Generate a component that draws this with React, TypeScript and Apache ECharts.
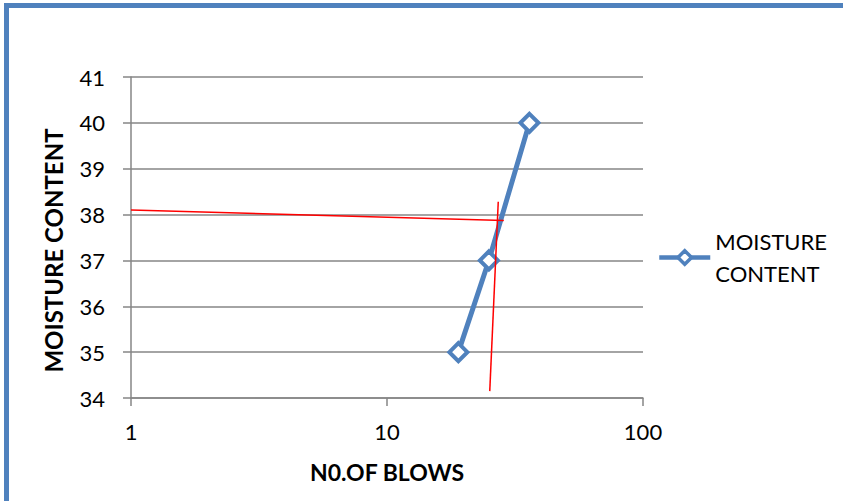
import React, { useEffect, useRef } from "react";
import * as echarts from "echarts";

const blows = [19, 25, 36];
const moisture = [35, 37, 40];
const redHX = [1, 28.6];
const redHY = [38.1, 37.87];
const redVX = [25.2, 27.2];
const redVY = [34.15, 38.28];
const seriesName = "MOISTURE CONTENT";
const xTitle = "N0.OF BLOWS";
const yTitle = "MOISTURE CONTENT";

const FONT = "Lato";
const BLUE = "#4F81BD";
const GRAY = "#868686";

export default function App() {
  const ref = useRef<HTMLDivElement>(null);
  useEffect(() => {
    const chart = echarts.init(ref.current!, null, { renderer: "svg" });
    const zip = (a: number[], b: number[]) => a.map((v, i) => [v, b[i]]);
    chart.setOption({
      animation: false,
      textStyle: { fontFamily: FONT },
      grid: { left: 131, right: 200, top: 77, bottom: 103, containLabel: false },
      xAxis: {
        type: "log",
        logBase: 10,
        min: 1,
        max: 100,
        name: xTitle,
        nameLocation: "middle",
        nameGap: 62,
        nameTextStyle: { fontFamily: FONT, fontWeight: "bold", fontSize: 23, color: "#000" },
        axisLine: { lineStyle: { color: GRAY, width: 1.5 } },
        axisTick: { show: true, length: 8, lineStyle: { color: GRAY, width: 1.5 } },
        minorTick: { show: false },
        splitLine: { show: false },
        axisLabel: { fontFamily: FONT, fontSize: 22, color: "#000", margin: 22 },
      },
      yAxis: {
        type: "value",
        min: 34,
        max: 41,
        interval: 1,
        name: yTitle,
        nameLocation: "middle",
        nameGap: 66,
        nameTextStyle: { fontFamily: FONT, fontWeight: "bold", fontSize: 24, color: "#000", padding: [0, 26, 0, 0] },
        axisLine: { show: true, lineStyle: { color: GRAY, width: 1.5 } },
        axisTick: { show: true, length: 8, lineStyle: { color: GRAY, width: 1.5 } },
        splitLine: { show: true, lineStyle: { color: GRAY, width: 1.5 } },
        axisLabel: { fontFamily: FONT, fontSize: 22, color: "#000", margin: 26 },
      },
      legend: {
        data: [seriesName],
        left: 652,
        top: 205,
        itemWidth: 51,
        itemHeight: 17,
        itemGap: 0,
        formatter: () => "MOISTURE\nCONTENT",
        lineStyle: { width: 4.5, color: BLUE },
        itemStyle: { color: "#fff", borderColor: BLUE, borderWidth: 3.5 },
        textStyle: { fontFamily: FONT, fontSize: 22, color: "#000", lineHeight: 32, padding: [31, 0, 0, 0] },
      },
      graphic: [
        {
          type: "rect",
          shape: { x: 6.5, y: 5.5, width: 1000, height: 700 },
          style: { fill: "none", stroke: BLUE, lineWidth: 5 },
          silent: true,
        },
      ],
      series: [
        {
          name: seriesName,
          type: "line",
          data: zip(blows, moisture),
          symbol: "diamond",
          symbolSize: 18,
          lineStyle: { color: BLUE, width: 5 },
          itemStyle: { color: "#fff", borderColor: BLUE, borderWidth: 4 },
          z: 3,
        },
        {
          name: "h",
          type: "line",
          data: zip(redHX, redHY),
          symbol: "none",
          lineStyle: { color: "#FF0000", width: 1.5 },
          z: 4,
        },
        {
          name: "v",
          type: "line",
          data: zip(redVX, redVY),
          symbol: "none",
          lineStyle: { color: "#FF0000", width: 1.5 },
          z: 4,
        },
      ],
    });
    return () => chart.dispose();
  }, []);
  return (
    <div
      ref={ref}
      style={{ position: "absolute", left: 0, top: 0, width: 843, height: 501, background: "#fff" }}
    />
  );
}
